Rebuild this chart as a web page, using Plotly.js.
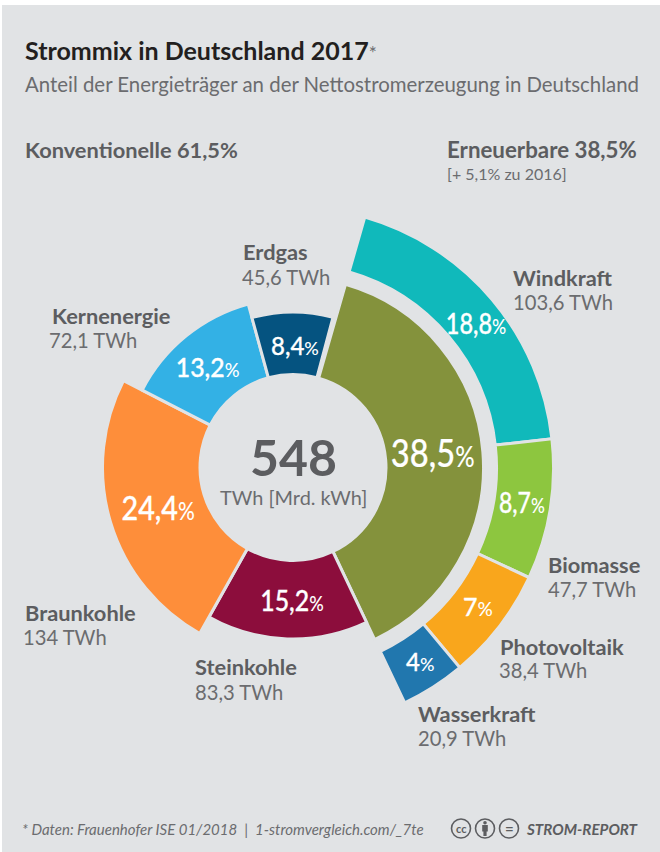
<!DOCTYPE html>
<html><head><meta charset="utf-8">
<script src="https://cdn.plot.ly/plotly-3.0.1.min.js"></script>
<style>html,body{margin:0;padding:0;background:#fff}#c{width:660px;height:852px}</style>
</head><body><div id="c"></div>
<script>
// --- data ---
var innerNames   = ['Erneuerbare','Steinkohle','Braunkohle','Kernenergie','Erdgas'];
var innerShare   = [38.5, 15.2, 24.4, 13.2, 8.4];
var innerOuterR  = [189, 170, 189, 168, 154];
var innerColors  = ['#84923c','#8c0d3c','#fe8e3a','#33b1e5','#055380'];

var outerNames   = ['Windkraft','Biomasse','Photovoltaik','Wasserkraft'];
var outerShare   = [18.8, 8.7, 7, 4];
var outerColors  = ['#10b9bb','#8dc63f','#f9a61c','#2177ae'];

var sourceLabels = ['Erdgas','Kernenergie','Windkraft','Biomasse','Photovoltaik','Wasserkraft','Braunkohle','Steinkohle'];
var sourceTWh    = ['45,6 TWh','72,1 TWh','103,6 TWh','47,7 TWh','38,4 TWh','20,9 TWh','134 TWh','83,3 TWh'];
var shareNumbers = ['38,5','18,8','8,7','7','4','8,4','13,2','24,4','15,2'];

// --- layout constants ---
var W = 660, H = 852, BG = '#e1e3e5';
var CX = 293, CY = 467.5, RMAX = 270, START = 16;
var HOLE = 93, OUTER_IN = 203.5, OUTER_OUT = 260.5, GAP = 3;
var FONT = 'Lato, sans-serif';
var DARK = '#5c5d60', GREY = '#6b6c6f';

function px(x){return x/W;}
function py(y){return 1-y/H;}
function angles(shares){
  var a = START, th = [], wd = [];
  shares.forEach(function(s){var w = s*3.6; th.push(a+w/2); wd.push(w); a += w;});
  return {th:th, wd:wd};
}
var ia = angles(innerShare), oa = angles(outerShare);

var traces = [
 {type:'barpolar', name:'Konventionell und Erneuerbar', theta:ia.th, width:ia.wd, base:innerShare.map(function(){return HOLE;}),
  r:innerOuterR.map(function(v){return v+GAP/2-HOLE;}), text:innerNames, hoverinfo:'text',
  marker:{color:innerColors, line:{color:BG, width:GAP}}},
 {type:'barpolar', name:'Erneuerbare', theta:oa.th, width:oa.wd, base:outerShare.map(function(){return OUTER_IN;}),
  r:outerShare.map(function(){return OUTER_OUT-OUTER_IN;}), text:outerNames, hoverinfo:'text',
  marker:{color:outerColors, line:{color:BG, width:GAP}}}
];

var ann = [];
function txt(x,y,t,size,color,opt){
  opt = opt||{};
  ann.push({xref:'paper',yref:'paper',x:px(x),y:py(y),text:t,showarrow:false,xanchor:opt.anchor||'left',yanchor:'middle',
    align:opt.anchor==='center'?'center':'left',borderpad:0,borderwidth:0,
    font:{family:FONT,size:size,color:color,weight:opt.weight||400}});
}
txt(25,50,'<b>Strommix in Deutschland 2017</b><span style="font-size:19px;color:#6b6c6f">*</span>',25,'#231f20');
txt(25,84,'Anteil der Energieträger an der Nettostromerzeugung in Deutschland',20.4,GREY);
txt(25,149.5,'<b>Konventionelle 61,5%</b>',21.8,DARK);
txt(447,149.5,'<b>Erneuerbare 38,5%</b>',22.3,DARK);
txt(447,174,'[+ 5,1% zu 2016]',16,GREY);

var labelPos = [[243,252,242,277],[52,316,49,340],[513,278,513,302],[548,565,548,589],
                [500,647,499,670],[418,714,418,738],[25,613,23,637],[195,667,195,692]];
sourceLabels.forEach(function(n,i){
  var p = labelPos[i];
  txt(p[0],p[1]-0.5,'<b>'+n+'</b>',21.8,DARK);
  txt(p[2],p[3]-0.5,sourceTWh[i],20.2,GREY);
});

txt(293,457,'<b>548</b>',50,DARK,{anchor:'center'});
txt(293,497,'TWh [Mrd. kWh]',19.9,GREY,{anchor:'center'});

var shareFirst = ann.length;
var sharePos = [[432,452,38,.86,.2],[476,322.5,28,.84,.35],[522,502,28,.82,.35],[478,606,25,1,.3],[420,661,24,1,.3],[295,345,24,1,.3],[208,366,27,.92,.35],[158,507.5,33,.87,.35],[292,599,29,.86,.35]];
shareNumbers.forEach(function(v,i){
  var p = sharePos[i];
  txt(p[0],p[1],v+'<span style="font-size:'+Math.round(p[2]*0.74)+'px">%</span>',p[2],'#ffffff',{anchor:'center',weight:500});
});

txt(22,829,'<i>* Daten: Frauenhofer ISE 01/2018  |  1-stromvergleich.com/_7te</i>',15,GREY);
txt(526,829,'<b><i>STROM-REPORT</i></b>',15.2,DARK);
txt(461,828.5,'<b>cc</b>',11,DARK,{anchor:'center'});
txt(509,827.5,'<b>=</b>',15,DARK,{anchor:'center'});

function circle(cx,cy,r,fill,lw){
  return {type:'circle',xref:'paper',yref:'paper',x0:px(cx-r),x1:px(cx+r),y0:py(cy+r),y1:py(cy-r),
    fillcolor:fill,line:{color:DARK,width:lw},layer:'above'};
}
function rect(x0,y0,x1,y1,fill,layer){
  return {type:'rect',xref:'paper',yref:'paper',x0:px(x0),x1:px(x1),y0:py(y1),y1:py(y0),
    fillcolor:fill,line:{width:0},layer:layer};
}
var shapes = [
  rect(2,5,660,852,BG,'below'),
  circle(461,828.5,9.5,'rgba(0,0,0,0)',1.6),
  circle(485,828.5,9.5,'rgba(0,0,0,0)',1.6),
  circle(509,828.5,9.5,'rgba(0,0,0,0)',1.6),
  circle(485,822.8,1.8,DARK,0),
  rect(482.2,825,487.8,831.5,DARK,'above'),
  rect(483.4,831,486.6,836,DARK,'above')
];

Plotly.newPlot('c',traces,{
  width:W,height:H,margin:{l:0,r:0,t:0,b:0},paper_bgcolor:'#ffffff',showlegend:false,
  polar:{
    domain:{x:[px(CX-RMAX),px(CX+RMAX)],y:[py(CY+RMAX),py(CY-RMAX)]},
    bgcolor:'rgba(0,0,0,0)',barmode:'overlay',
    radialaxis:{visible:false,range:[0,RMAX]},
    angularaxis:{visible:false,direction:'clockwise',rotation:90,thetaunit:'degrees'}
  },
  annotations:ann,shapes:shapes
},{displayModeBar:false,staticPlot:true}).then(function(gd){
  // the reference's share figures are set in a condensed, heavier face with a light % sign
  sharePos.forEach(function(p,i){
    var node = gd.querySelector('.annotation[data-index="'+(shareFirst+i)+'"] text');
    if(!node) return;
    var b = node.getBBox(), c = b.x+b.width/2;
    node.setAttribute('transform','translate('+c+',0) scale('+p[3]+',1) translate('+(-c)+',0)');
    node.style.stroke = '#ffffff';
    node.style.strokeWidth = p[4]+'px';
    var spans = node.querySelectorAll('tspan');
    spans.forEach(function(s){ if(s.textContent==='%') s.style.setProperty('stroke-width','0px','important'); });
  });
});
</script></body></html>
